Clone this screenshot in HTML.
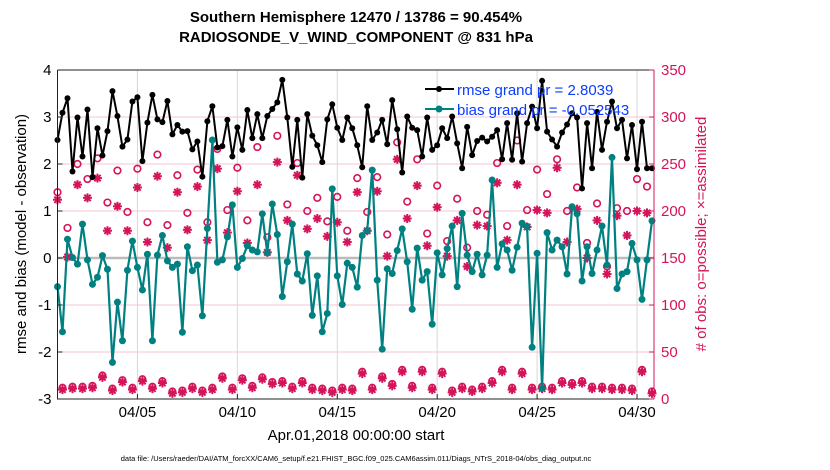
<!DOCTYPE html>
<html><head><meta charset="utf-8"><style>
body{margin:0;background:#fff;}
svg{display:block;font-family:"Liberation Sans",Arial,sans-serif;}
</style></head><body>
<svg id="chart" width="830" height="470" xmlns="http://www.w3.org/2000/svg">
<text x="356" y="22" text-anchor="middle" font-size="15" font-weight="bold">Southern Hemisphere 12470 / 13786 = 90.454%</text>
<text x="356" y="42" text-anchor="middle" font-size="15" font-weight="bold">RADIOSONDE_V_WIND_COMPONENT @ 831 hPa</text>
<text transform="translate(26,234) rotate(-90)" text-anchor="middle" font-size="15">rmse and bias (model - observation)</text>
<text transform="translate(706,234) rotate(-90)" text-anchor="middle" font-size="15" fill="#d4145a"># of obs: o=possible; ×=assimilated</text>
<text x="356" y="440" text-anchor="middle" font-size="15">Apr.01,2018 00:00:00 start</text>
<text x="356" y="461" text-anchor="middle" font-size="7.5">data file: /Users/raeder/DAI/ATM_forcXX/CAM6_setup/f.e21.FHIST_BGC.f09_025.CAM6assim.011/Diags_NTrS_2018-04/obs_diag_output.nc</text>
<g id="grid"></g><g id="marks"></g><g id="axes"></g>
<g>
<line x1="425" y1="89" x2="454" y2="89" stroke="#000" stroke-width="2"/><circle cx="439" cy="89" r="3" fill="#000"/>
<line x1="425" y1="109" x2="454" y2="109" stroke="#008080" stroke-width="2"/><circle cx="439" cy="109" r="3.5" fill="#008080"/>
<text x="457" y="95" font-size="15" fill="#0a3cff">rmse grand pr = 2.8039</text>
<text x="457" y="115" font-size="15" fill="#0a3cff">bias grand pr = -0.052543</text>
</g>
</svg>
<script>
const rmse=[2.51,3.09,3.40,1.84,2.99,2.16,3.16,1.72,2.76,2.18,2.70,3.55,3.02,2.37,2.52,3.33,3.42,2.06,2.88,3.47,2.95,2.89,3.34,2.63,2.83,2.69,2.70,2.31,2.48,1.73,2.91,3.23,2.35,2.38,2.94,2.16,2.78,2.30,3.15,2.55,3.06,2.55,3.02,3.17,3.31,3.79,2.99,1.94,2.94,1.71,3.06,2.60,2.40,2.04,2.95,3.27,2.77,2.51,2.99,2.76,2.40,1.93,3.23,2.51,2.67,2.94,2.42,3.36,2.74,1.82,3.01,2.77,2.72,2.16,2.99,2.30,2.40,2.76,2.55,3.01,2.44,1.91,2.79,2.19,2.49,2.56,2.48,2.58,2.72,2.10,2.87,2.09,3.08,2.05,2.87,3.22,2.76,3.77,2.69,2.52,2.37,2.67,2.84,3.08,2.99,1.48,2.87,1.91,3.11,2.30,2.90,3.33,2.76,2.94,2.12,2.83,1.89,2.90,1.91,1.91];
const bias=[-0.61,-1.57,0.40,0.01,-0.13,0.72,-0.04,-0.56,-0.41,0.05,-0.24,-2.22,-0.94,-1.76,-0.26,0.36,-0.20,-0.68,0.08,-1.76,0.06,0.48,-0.06,-0.20,-0.13,-1.58,0.24,-0.27,-0.15,-1.23,0.63,2.51,-0.09,-0.04,0.45,1.13,-0.20,-0.01,0.26,0.17,0.13,0.94,0.11,1.15,0.50,-0.82,-0.08,0.72,-0.34,-0.49,0.09,-1.22,-0.38,-1.57,-1.18,1.47,-0.38,-0.99,-0.11,-0.20,-0.62,0.48,0.58,1.87,-0.47,-1.94,-0.23,-0.33,0.16,0.62,-0.08,-1.09,0.21,-0.47,-0.29,-1.41,0.11,-0.36,0.20,0.68,-0.61,0.95,0.06,-0.29,0.08,-0.36,0.06,1.66,-0.20,0.30,0.17,-0.26,0.23,0.74,0.67,-1.90,0.10,-2.77,0.54,0.17,0.38,0.24,-0.34,1.09,0.94,-0.49,0.24,-0.33,0.17,0.68,-0.15,2.14,-0.65,-0.34,-0.29,0.31,-0.04,-0.88,-0.04,0.79];
const possEven=[220,182,250,234,256,209,243,199,245,188,260,185,238,198,244,188,266,201,246,190,268,172,280,207,251,200,214,189,215,179,235,199,236,175,273,210,255,176,227,168,213,161,200,196,251,184,275,201,244,218,255,200,225,166,208,141,203,200,234,226];
const assimEven=[212,151,228,214,235,179,205,179,225,167,237,161,220,180,226,169,245,177,221,166,228,156,252,190,238,181,192,173,188,167,220,179,221,152,255,192,227,163,204,152,190,141,185,184,230,169,228,183,201,198,246,167,202,150,190,133,195,174,200,198];
const assimOdd=[10,11,11,12,23,9,18,10,19,11,17,6,7,11,7,10,22,10,20,12,21,16,17,11,17,10,9,7,10,9,27,10,22,14,29,12,29,10,27,7,11,8,11,17,29,10,27,10,11,10,17,15,17,11,11,10,10,9,29,6];
const xTickDays=[4,9,14,19,24,29];
const xTickLabels=["04/05","04/10","04/15","04/20","04/25","04/30"];
const leftTicks=[-3,-2,-1,0,1,2,3,4];
const rightTicks=[0,50,100,150,200,250,300,350];
const stepDays=0.25;
const L=57.5,R=654,T=70,B=399;
const xS=d=>L+d*(R-L)/29.85;
const yL=v=>T+(4-v)*(B-T)/7;
const yR=v=>B-v*(B-T)/350;
const NS="http://www.w3.org/2000/svg";
function mk(tag,attrs,parent){const e=document.createElementNS(NS,tag);for(const k in attrs)e.setAttribute(k,attrs[k]);parent.appendChild(e);return e;}
const grid=document.getElementById('grid'),marks=document.getElementById('marks'),axes=document.getElementById('axes');
leftTicks.forEach(v=>{if(v===0||v===4||v===-3)return;const g=mk('line',{x1:L,x2:R,y1:yL(v),y2:yL(v),stroke:'#f3c6d6','stroke-width':1},grid);

});
xTickDays.forEach(d=>{const g=mk('line',{x1:xS(d),x2:xS(d),y1:T,y2:B,stroke:'#d8d8d8','stroke-width':1},grid);

});
const z=mk('line',{x1:L,x2:R,y1:yL(0),y2:yL(0),stroke:'#bbb','stroke-width':2.5},grid);


const pink='#d4145a';
function star(cx,cy,name){const g=mk('g',{stroke:pink,'stroke-width':2},marks);


const r=4.5;for(let a=0;a<4;a++){const t=a*Math.PI/4;mk('line',{x1:cx-r*Math.cos(t),y1:cy-r*Math.sin(t),x2:cx+r*Math.cos(t),y2:cy+r*Math.sin(t)},g);}}
possEven.forEach((v,k)=>{const c=mk('circle',{cx:xS(2*k*stepDays),cy:yR(v),r:3.3,fill:'none',stroke:pink,'stroke-width':1.6},marks);

});
assimEven.forEach((v,k)=>star(xS(2*k*stepDays),yR(v),'assimilated-obs-marker'));
assimOdd.forEach((v,k)=>{const c=mk('circle',{cx:xS((2*k+1)*stepDays),cy:yR(v+2),r:3.3,fill:'none',stroke:pink,'stroke-width':1.6},marks);


star(xS((2*k+1)*stepDays),yR(v),'assimilated-obs-marker');});
function series(vals,color,w,r,name){const p=vals.map((v,i)=>xS(i*stepDays).toFixed(1)+','+yL(v).toFixed(1)).join(' ');
const pl=mk('polyline',{points:p,fill:'none',stroke:color,'stroke-width':w,'stroke-linejoin':'round'},marks);


vals.forEach((v,i)=>{const c=mk('circle',{cx:xS(i*stepDays),cy:yL(v),r:r,fill:color},marks);

});}
series(rmse,'#000',2,3,'rmse');
series(bias,'#008080',2.2,3.5,'bias');
const box=mk('path',{d:`M${L},${T}H${R}M${L},${T}V${B}H${R}`,stroke:'#222',fill:'none','stroke-width':1},axes);


const ra=mk('line',{x1:R,x2:R,y1:T,y2:B,stroke:pink,'stroke-width':1},axes);


leftTicks.forEach(v=>{const t=mk('text',{x:L-6,y:yL(v)+5,'text-anchor':'end','font-size':15},axes);t.textContent=v;


mk('line',{x1:L,x2:L+5,y1:yL(v),y2:yL(v),stroke:'#222'},axes);});
rightTicks.forEach(v=>{const t=mk('text',{x:R+7,y:yR(v)+5,'font-size':15,fill:pink},axes);t.textContent=v;


mk('line',{x1:R-5,x2:R,y1:yR(v),y2:yR(v),stroke:pink},axes);});
xTickDays.forEach((d,i)=>{const t=mk('text',{x:xS(d),y:417,'text-anchor':'middle','font-size':15},axes);t.textContent=xTickLabels[i];


mk('line',{x1:xS(d),x2:xS(d),y1:B,y2:B-5,stroke:'#222'},axes);});
</script>
</body></html>
